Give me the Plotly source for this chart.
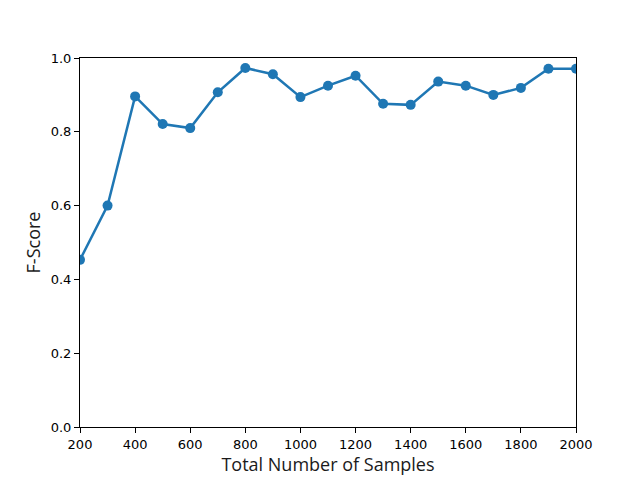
import plotly.graph_objects as go

samples = [200, 300, 400, 500, 600, 700, 800, 900, 1000, 1100, 1200,
           1300, 1400, 1500, 1600, 1700, 1800, 1900, 2000]
fscore = [0.453, 0.600, 0.896, 0.821, 0.810, 0.907, 0.973, 0.956, 0.894, 0.925, 0.952,
          0.876, 0.873, 0.936, 0.925, 0.900, 0.919, 0.971, 0.971]

x_ticks = [200, 400, 600, 800, 1000, 1200, 1400, 1600, 1800, 2000]
y_ticks = [0.0, 0.2, 0.4, 0.6, 0.8, 1.0]
y_tick_text = ["0.0", "0.2", "0.4", "0.6", "0.8", "1.0"]

fig = go.Figure()
fig.add_trace(go.Scatter(
    x=samples, y=fscore, mode="lines+markers",
    line=dict(color="#1f77b4", width=2.5),
    marker=dict(color="#1f77b4", size=10),
    cliponaxis=True, showlegend=False,
))

axis_common = dict(
    showline=True, linecolor="black", linewidth=1, mirror=True,
    ticks="outside", ticklen=5, tickwidth=1, tickcolor="black",
    showgrid=False, zeroline=False,
    tickfont=dict(family="DejaVu Sans", size=13, color="black"),
)

title_font = dict(family="Open Sans", size=18, color="#1a1a1a")

fig.update_layout(
    width=640, height=480,
    margin=dict(l=72, r=72, t=50, b=61),
    paper_bgcolor="white", plot_bgcolor="white",
    font=dict(family="DejaVu Sans", color="black"),
    xaxis=dict(range=[200, 2000], tickvals=x_ticks,
               title=dict(text="Total Number of Samples", font=title_font, standoff=6),
               **axis_common),
    yaxis=dict(range=[0, 1], tickvals=y_ticks, ticktext=y_tick_text,
               title=dict(text="F-Score", font=title_font, standoff=5),
               **axis_common),
)

fig.write_html("out.html")
